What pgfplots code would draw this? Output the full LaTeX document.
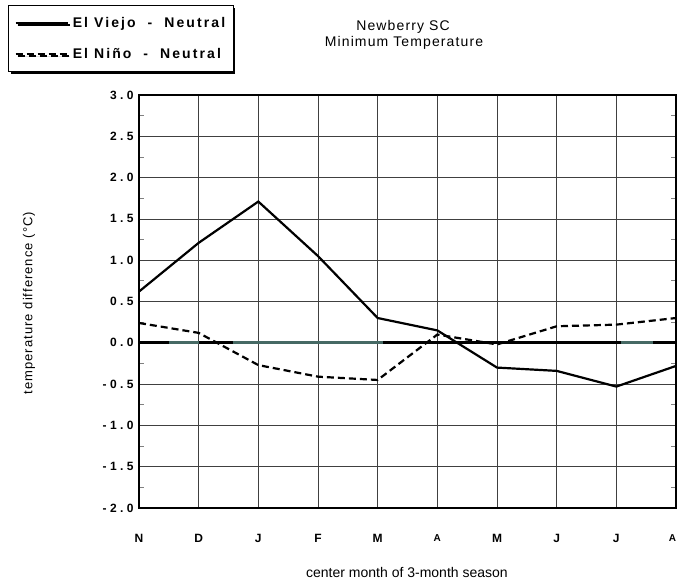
\documentclass[border=0pt]{standalone}
\usepackage{fontspec}
\setmainfont{Liberation Sans}
\newfontfamily\tickfont[LetterSpace=28]{Liberation Sans}
\newfontfamily\legfont[LetterSpace=15]{Liberation Sans}
\newfontfamily\titlefont[LetterSpace=8]{Liberation Sans}
\newfontfamily\ylabfont[LetterSpace=8]{Liberation Sans}
\usepackage{pgfplots}
\pgfplotsset{compat=1.18}
\usetikzlibrary{shadows}
\definecolor{teal0}{RGB}{70,105,100}
\begin{document}
\begin{tikzpicture}[x=1pt,y=1pt]
\path[use as bounding box] (0,0) rectangle (678,584);
\begin{axis}[
  at={(139pt,76pt)}, anchor=south west, scale only axis,
  width=537pt, height=413pt,
  xmin=0, xmax=9, ymin=-2, ymax=3,
  xtick={0,1,2,3,4,5,6,7,8,9},
  xticklabels={N,D,J,F,M,{\fontsize{10}{12}\selectfont A},M,J,J,{\fontsize{10}{12}\selectfont\hspace*{-7pt}A}},
  ytick={-2,-1.5,-1,-0.5,0,0.5,1,1.5,2,2.5,3},
  yticklabels={-2.0,-1.5,-1.0,-0.5,0.0,0.5,1.0,1.5,2.0,2.5,3.0},
  minor ytick={-1.75,-1.25,-0.75,-0.25,0.25,0.75,1.25,1.75,2.25,2.75},
  grid=major,
  major grid style={black!75, line width=0.6pt},
  axis line style={line width=1.2pt},
  tick align=inside, major tick length=0pt, minor tick length=5pt,
  minor tick style={line width=0.8pt},
  xticklabel style={font=\tickfont\fontsize{12}{14}\selectfont\bfseries, yshift=-23pt},
  yticklabel style={font=\tickfont\fontsize{12}{14}\selectfont\bfseries, xshift=-2pt},
  xlabel={center month of 3-month season},
  xlabel style={font=\fontsize{14}{16}\selectfont, at={(axis description cs:0.499,-0.157)}, anchor=center},
  ylabel={temperature difference (\textdegree C)},
  ylabel style={font=\ylabfont\fontsize{13}{15}\selectfont, at={(axis description cs:-0.205,0.496)}, anchor=center},
  legend style={at={(axis description cs:-0.244,1.218)}, anchor=north west,
    draw=black, line width=1.2pt, fill=white,
    drop shadow={shadow xshift=2pt, shadow yshift=-2pt, fill=black, opacity=1},
    font=\legfont\fontsize{14}{16}\selectfont\bfseries,
    inner xsep=6pt, inner ysep=10pt, row sep=15pt,
    legend cell align=left},
  legend image code/.code={\draw[#1] (0pt,0pt) -- (52pt,0pt); \path (54pt,0pt);},
  clip=false,
]
% zero reference line
\addplot[black, line width=3pt, forget plot] coordinates {(0,0) (9,0)};
\addplot[teal0, line width=3pt, forget plot] coordinates {(0.5,0) (1.0,0)};
\addplot[teal0, line width=3pt, forget plot] coordinates {(1.57,0) (4.09,0)};
\addplot[teal0, line width=3pt, forget plot] coordinates {(8.08,0) (8.62,0)};
% El Viejo - Neutral
\addplot[black, line width=2.2pt] coordinates {
 (0,0.62) (1,1.21) (2,1.71) (3,1.05) (4,0.30) (5,0.15) (6,-0.30) (7,-0.34) (8,-0.53) (9,-0.28)};
\addlegendentry{El Viejo~~-~~Neutral}
% El Nino - Neutral
\addplot[black, line width=2.2pt, dash pattern=on 7pt off 4pt] coordinates {
 (0,0.24) (1,0.12) (2,-0.27) (3,-0.41) (4,-0.45) (5,0.10) (6,-0.02) (7,0.20) (8,0.22) (9,0.30)};
\addlegendentry{El Niño~~-~~Neutral}
\end{axis}
\node[font=\titlefont\fontsize{14}{16}\selectfont] at (403,557) {Newberry SC};
\node[font=\titlefont\fontsize{14}{16}\selectfont] at (404,541) {Minimum Temperature};
\end{tikzpicture}
\end{document}
